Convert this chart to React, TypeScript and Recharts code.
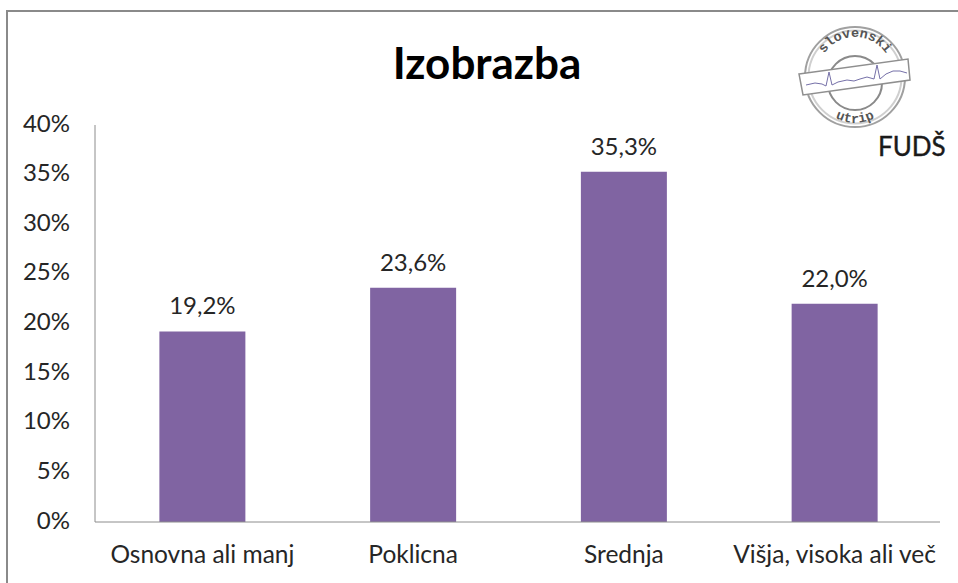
import React from "react";
import { BarChart, Bar, XAxis, YAxis, LabelList } from "recharts";

const categories = ["Osnovna ali manj", "Poklicna", "Srednja", "Višja, visoka ali več"];
const values = [19.2, 23.6, 35.3, 22.0];
const yTicks = [0, 5, 10, 15, 20, 25, 30, 35, 40];
const title = "Izobrazba";
const rows = categories.map((name, i) => ({ name, value: values[i] }));

const FONT = "Lato, 'Open Sans', sans-serif";
const TEXT = "#262626";
const pct = (v: number) => `${v}%`;
const label = (v: any) => `${Number(v).toFixed(1).replace(".", ",")}%`;

function Logo() {
  return (
    <svg width={958} height={583} style={{ position: "absolute", left: 0, top: 0, pointerEvents: "none" }}>
      <defs>
        <path id="topArc" d="M 818 74 A 37 37 0 0 1 892 74" />
        <path id="botArc" d="M 820 104 A 42 42 0 0 0 890 104" />
      </defs>
      <text x={487} y={79} textAnchor="middle" fontFamily={FONT} fontWeight={700} fontSize={44} fill="#000">{title}</text>
      <circle cx={855} cy={77} r={50} fill="#fff" stroke="#a0a0a0" strokeWidth={2} />
      <circle cx={855} cy={77} r={46.5} fill="none" stroke="#cfcfcf" strokeWidth={2} />
      <circle cx={855} cy={83} r={27} fill="none" stroke="#8a8a8a" strokeWidth={2} />
      <text fontFamily="'Liberation Mono', monospace" fontWeight={700} fontSize={13.5} fill="#555">
        <textPath href="#topArc" startOffset="50%" textAnchor="middle">slovenski</textPath>
      </text>
      <text fontFamily="'Liberation Mono', monospace" fontWeight={700} fontSize={13.5} fill="#555">
        <textPath href="#botArc" startOffset="50%" textAnchor="middle">utrip</textPath>
      </text>
      <polygon points="799,74 908,59 910,80 803,95" fill="#fff" stroke="#8f8f8f" strokeWidth={1.5} />
      <polyline
        points="806,85 815,83 822,84 826,86 829,72 832,85 838,82 847,80 854,81 860,79 867,77 874,79 877,65 880,79 886,74 893,71 900,71 907,73"
        fill="none"
        stroke="#7570a8"
        strokeWidth={1}
      />
      <text x={878} y={156} fontFamily={FONT} fontSize={26} fill="#1a1a1a" stroke="#1a1a1a" strokeWidth={0.4}>FUDŠ</text>
    </svg>
  );
}

export default function App() {
  return (
    <div style={{ position: "absolute", left: 0, top: 0, width: 958, height: 583, background: "#fff", overflow: "hidden" }}>
      <div style={{ position: "absolute", left: 6, top: 10, width: 960, height: 600, borderLeft: "2px solid #8a8a8a", borderTop: "2px solid #8a8a8a" }} />
      <div style={{ position: "absolute", left: 0, top: 0 }}>
        <BarChart width={958} height={583} data={rows} margin={{ top: 125, right: 18, bottom: 0, left: 0 }} barCategoryGap="29.6%">
          <XAxis
            dataKey="name"
            height={61}
            interval={0}
            padding={{ left: 2, right: 0 }}
            tickLine={false}
            axisLine={{ stroke: "#8c8c8c", strokeWidth: 1 }}
            tick={{ fontFamily: FONT, fontSize: 24.5, fill: TEXT }}
            tickMargin={18}
          />
          <YAxis
            width={95}
            domain={[0, 40]}
            ticks={yTicks}
            tickFormatter={pct}
            tickLine={false}
            axisLine={{ stroke: "#8c8c8c", strokeWidth: 1 }}
            tick={{ fontFamily: FONT, fontSize: 24, fill: TEXT, dy: -2 }}
            tickMargin={19}
          />
          <Bar dataKey="value" fill="#8064a2" isAnimationActive={false}>
            <LabelList dataKey="value" position="top" offset={17} formatter={label} style={{ fontFamily: FONT, fontSize: 24, fill: TEXT }} />
          </Bar>
        </BarChart>
      </div>
      <Logo />
    </div>
  );
}
